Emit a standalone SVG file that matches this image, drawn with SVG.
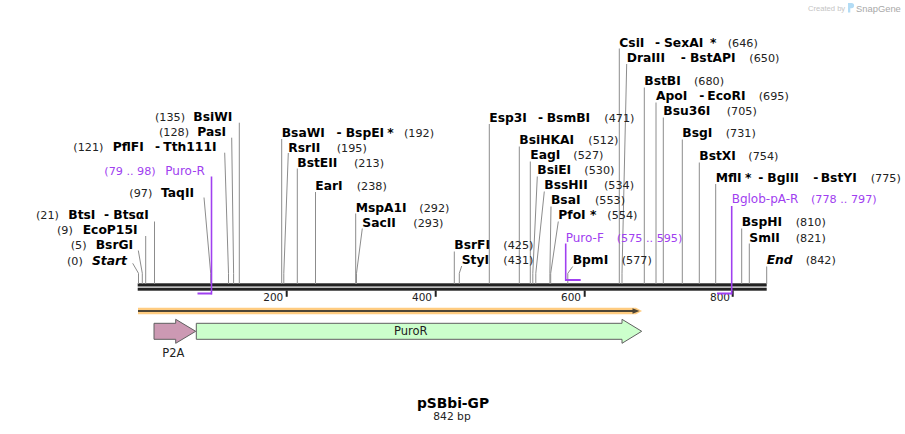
<svg xmlns="http://www.w3.org/2000/svg" width="905" height="434" viewBox="0 0 905 434">
<style>
.n{font-family:"DejaVu Sans",Verdana,sans-serif;font-weight:bold;font-size:12.3px;fill:#000}
.i{font-style:italic}
.p{font-family:"DejaVu Sans",Verdana,sans-serif;font-size:11.2px;fill:#222}
.pr{font-family:"DejaVu Sans",Verdana,sans-serif;font-size:12px;fill:#a040f0}
.prp{font-family:"DejaVu Sans",Verdana,sans-serif;font-size:11.2px;fill:#a040f0}
.ln{stroke:#8c8c8c;stroke-width:1;fill:none}
.pl{stroke:#a040f0;stroke-width:1.6;fill:none}
.pb{fill:#a040f0}
.bb{fill:#222}
.tk{fill:#222}
.tl{font-family:"DejaVu Sans",Verdana,sans-serif;font-size:10.5px;fill:#222;text-anchor:end}
.ft{stroke:#606060;stroke-width:1}
.fl{font-family:"DejaVu Sans",Verdana,sans-serif;font-size:11.5px;fill:#222}
</style>

<g id="logo">
<text x="808" y="11" font-family="Liberation Sans,Arial,sans-serif" font-size="7.6" fill="#c4c4c4">Created by</text>
<path d="M848,3 h3.5 a2.6,2.6 0 0 1 0,5.2 h-1.2 v4.3 h-2.3 z" fill="#b3dcf5"/>
<text x="856" y="11.5" font-family="Liberation Sans,Arial,sans-serif" font-size="9.4" fill="#a8a8a8">SnapGene</text>
</g>

<g id="backbone">
<rect class="bb" x="137.7" y="283.3" width="629" height="3.2"/>
<rect class="bb" x="137.7" y="287.7" width="629" height="3"/>
</g>

<g id="ruler">
<rect class="tk" x="285.7" y="290.5" width="2" height="6.3"/>
<rect class="tk" x="434.7" y="290.5" width="2" height="6.3"/>
<rect class="tk" x="583.7" y="290.5" width="2" height="6.3"/>
<rect class="tk" x="731.7" y="290.5" width="2" height="6.3"/>
<text class="tl" x="283.3" y="300.5">200</text>
<text class="tl" x="432" y="300.5">400</text>
<text class="tl" x="581" y="300.5">600</text>
<text class="tl" x="730" y="300.5">800</text>
</g>

<g id="connectors">
<path class="ln" d="M132.7,263.3 L138.5,273.3 V284"/>
<path class="ln" d="M138.3,250.5 L142.3,273.3 V284"/>
<path class="ln" d="M145.7,236 V284"/>
<path class="ln" d="M154.5,221.5 V284"/>
<path class="ln" d="M204,197.5 L210.7,273.3 V284"/>
<path class="ln" d="M224.7,152.7 L228.5,273.3 V284"/>
<path class="ln" d="M231.7,137.7 L233.6,273.3 V284"/>
<path class="ln" d="M239.3,122.7 V284"/>
<path class="ln" d="M281.7,139 V284"/>
<path class="ln" d="M288.3,153 L283.8,273.3 V284"/>
<path class="ln" d="M297.3,168.5 V284"/>
<path class="ln" d="M315.5,192 V284"/>
<path class="ln" d="M355.7,213.5 V284"/>
<path class="ln" d="M362.3,228.5 L356.5,273.3 V284"/>
<path class="ln" d="M454.3,251.5 V284"/>
<path class="ln" d="M461.7,266 L459.3,273.3 V284"/>
<path class="ln" d="M489.3,124 V284"/>
<path class="ln" d="M519.3,146.5 V284"/>
<path class="ln" d="M530.3,161.5 V284"/>
<path class="ln" d="M537.3,176.5 L532.8,273.3 V284"/>
<path class="ln" d="M544.3,191.5 L535.8,273.3 V284"/>
<path class="ln" d="M551,206.5 L549.9,273.3 V284"/>
<path class="ln" d="M558.3,221.5 L550.7,273.3 V284"/>
<path class="ln" d="M572.7,266.5 L567.8,273.3 V284"/>
<path class="ln" d="M619.3,48.5 V284"/>
<path class="ln" d="M626.7,64 L622,273.3 V284"/>
<path class="ln" d="M644.3,87.5 V284"/>
<path class="ln" d="M656,102.5 V284"/>
<path class="ln" d="M663.3,117.5 V284"/>
<path class="ln" d="M682.3,139.5 V284"/>
<path class="ln" d="M699.3,162.5 V284"/>
<path class="ln" d="M715.7,184 V284"/>
<path class="ln" d="M741.7,228.5 V284"/>
<path class="ln" d="M749.3,243.5 V284"/>
<path class="ln" d="M766.7,266.5 V284"/>
<path class="pl" d="M211.5,176.5 V294.5"/>
<path class="pl" d="M565.7,243.5 V281"/>
<path class="pl" d="M731.7,206 V294.5"/>
</g>

<g id="primers">
<rect class="pb" x="197.5" y="292.5" width="14.3" height="2"/>
<rect class="pb" x="565.7" y="279" width="15" height="2"/>
<rect class="pb" x="717" y="292.5" width="14.7" height="2"/>
</g>

<g id="site-start"><text class="p" x="67" y="265">(0)</text><text class="n i" x="92" y="265">Start</text></g>
<g id="site-bsrgi"><text class="p" x="70.7" y="249.3">(5)</text><text class="n" x="95.7" y="249.3">BsrGI</text></g>
<g id="site-ecop15i"><text class="p" x="57" y="234">(9)</text><text class="n" x="82.7" y="234">EcoP15I</text></g>
<g id="site-btsi"><text class="p" x="36" y="219">(21)</text><text class="n" y="219"><tspan x="68.3">BtsI</tspan><tspan x="104">-</tspan><tspan x="113.3">BtsαI</tspan></text></g>
<g id="site-taqii"><text class="p" x="129.3" y="196.7">(97)</text><text class="n" x="161" y="196.7">TaqII</text></g>
<g id="primer-puro-r"><text class="prp" x="104.3" y="175">(79 .. 98)</text><text class="pr" x="165.3" y="175">Puro-R</text></g>
<g id="site-pflfi"><text class="p" x="73.3" y="151">(121)</text><text class="n" y="151"><tspan x="112.7">PflFI</tspan><tspan x="155">-</tspan><tspan x="163.3">Tth111I</tspan></text></g>
<g id="site-pasi"><text class="p" x="159" y="136">(128)</text><text class="n" x="197.3" y="136">PasI</text></g>
<g id="site-bsiwi"><text class="p" x="155" y="121">(135)</text><text class="n" x="193.3" y="121">BsiWI</text></g>

<g id="site-bsawi"><text class="n" y="136.7"><tspan x="281.7">BsaWI</tspan><tspan x="336.5">-</tspan><tspan x="345.7">BspEI</tspan><tspan x="387.3">*</tspan></text><text class="p" x="404" y="136.7">(192)</text></g>
<g id="site-rsrii"><text class="n" x="288.3" y="151.7">RsrII</text><text class="p" x="336.7" y="151.7">(195)</text></g>
<g id="site-bsteii"><text class="n" x="297.3" y="166.7">BstEII</text><text class="p" x="354" y="166.7">(213)</text></g>
<g id="site-eari"><text class="n" x="315.3" y="190">EarI</text><text class="p" x="356.7" y="190">(238)</text></g>
<g id="site-mspa1i"><text class="n" x="355.7" y="211.7">MspA1I</text><text class="p" x="419.3" y="211.7">(292)</text></g>
<g id="site-sacii"><text class="n" x="362.3" y="226.7">SacII</text><text class="p" x="413.3" y="226.7">(293)</text></g>
<g id="site-bsrfi"><text class="n" x="454.3" y="249.3">BsrFI</text><text class="p" x="503.3" y="249.3">(425)</text></g>
<g id="site-styi"><text class="n" x="461.7" y="264.3">StyI</text><text class="p" x="503.3" y="264.3">(431)</text></g>
<g id="site-esp3i"><text class="n" y="121.7"><tspan x="489.3">Esp3I</tspan><tspan x="538">-</tspan><tspan x="546.7">BsmBI</tspan></text><text class="p" x="604.3" y="121.7">(471)</text></g>
<g id="site-bsihkai"><text class="n" x="519.3" y="144.3">BsiHKAI</text><text class="p" x="588.3" y="144.3">(512)</text></g>
<g id="site-eagi"><text class="n" x="530.3" y="159.3">EagI</text><text class="p" x="573.3" y="159.3">(527)</text></g>
<g id="site-bsiei"><text class="n" x="537.3" y="174.3">BsiEI</text><text class="p" x="584.3" y="174.3">(530)</text></g>
<g id="site-bsshii"><text class="n" x="544.3" y="189.3">BssHII</text><text class="p" x="604" y="189.3">(534)</text></g>
<g id="site-bsai"><text class="n" x="551" y="204.3">BsaI</text><text class="p" x="595" y="204.3">(553)</text></g>
<g id="site-pfoi"><text class="n" y="219.3"><tspan x="558.3">PfoI</tspan><tspan x="590">*</tspan></text><text class="p" x="607.3" y="219.3">(554)</text></g>
<g id="primer-puro-f"><text class="pr" x="565.7" y="241.7">Puro-F</text><text class="prp" x="616.7" y="241.7">(575 .. 595)</text></g>
<g id="site-bpmi"><text class="n" x="572.7" y="264.3">BpmI</text><text class="p" x="621.7" y="264.3">(577)</text></g>
<g id="site-csii"><text class="n" y="46.7"><tspan x="619.3">CsiI</tspan><tspan x="655">-</tspan><tspan x="664">SexAI</tspan><tspan x="710">*</tspan></text><text class="p" x="727.7" y="46.7">(646)</text></g>
<g id="site-draiii"><text class="n" y="61.7"><tspan x="626.7">DraIII</tspan><tspan x="680.7">-</tspan><tspan x="690">BstAPI</tspan></text><text class="p" x="749.3" y="61.7">(650)</text></g>
<g id="site-bstbi"><text class="n" x="644.3" y="85">BstBI</text><text class="p" x="694" y="85">(680)</text></g>
<g id="site-apoi"><text class="n" y="100"><tspan x="656">ApoI</tspan><tspan x="699.3">-</tspan><tspan x="707.3">EcoRI</tspan></text><text class="p" x="758.7" y="100">(695)</text></g>
<g id="site-bsu36i"><text class="n" x="663.3" y="115">Bsu36I</text><text class="p" x="726.7" y="115">(705)</text></g>
<g id="site-bsgi"><text class="n" x="682.3" y="136.5">BsgI</text><text class="p" x="725.7" y="136.5">(731)</text></g>
<g id="site-bstxi"><text class="n" x="699.3" y="160">BstXI</text><text class="p" x="748.3" y="160">(754)</text></g>
<g id="site-mfli"><text class="n" y="181.7"><tspan x="715.7">MflI</tspan><tspan x="745">*</tspan><tspan x="758.3">-</tspan><tspan x="767.3">BglII</tspan><tspan x="813.3">-</tspan><tspan x="820.7">BstYI</tspan></text><text class="p" x="870.7" y="181.7">(775)</text></g>
<g id="primer-bglob-pa-r"><text class="pr" x="731.7" y="203">Bglob-pA-R</text><text class="prp" x="811" y="203">(778 .. 797)</text></g>
<g id="site-bsphi"><text class="n" x="741.7" y="226">BspHI</text><text class="p" x="795.7" y="226">(810)</text></g>
<g id="site-smli"><text class="n" x="749.3" y="241.7">SmlI</text><text class="p" x="795.7" y="241.7">(821)</text></g>
<g id="site-end"><text class="n i" x="766.7" y="264.3">End</text><text class="p" x="805.7" y="264.3">(842)</text></g>

<g id="orf">
<path d="M138,307.8 H636 L642,311 L636,314.2 H138 Z" fill="#ffcc80"/>
<line x1="138" y1="311" x2="634" y2="311" stroke="#4d4535" stroke-width="2"/>
<path d="M632.5,308.3 L639.5,311 L632.5,313.7 Z" fill="#4d4535"/>
</g>

<g id="feature-p2a">
<path class="ft" d="M154,323.3 H175.7 V319.3 L195.7,331.3 L175.7,343.3 V339.3 H154 Z" fill="#cc99b3"/>
<text class="fl" x="173.3" y="356.5" text-anchor="middle">P2A</text>
</g>
<g id="feature-puror">
<path class="ft" d="M196.3,323.3 H622 V319.3 L641.7,331.3 L622,343.3 V339.3 H196.3 Z" fill="#ccffcc"/>
<text class="fl" x="394" y="335">PuroR</text>
</g>

<g id="title">
<text x="453" y="407.5" text-anchor="middle" font-family="DejaVu Sans,Verdana,sans-serif" font-weight="bold" font-size="13.8" fill="#000">pSBbi-GP</text>
<text x="452" y="419.5" text-anchor="middle" font-family="DejaVu Sans,Verdana,sans-serif" font-size="10.7" fill="#222">842 bp</text>
</g>
</svg>
